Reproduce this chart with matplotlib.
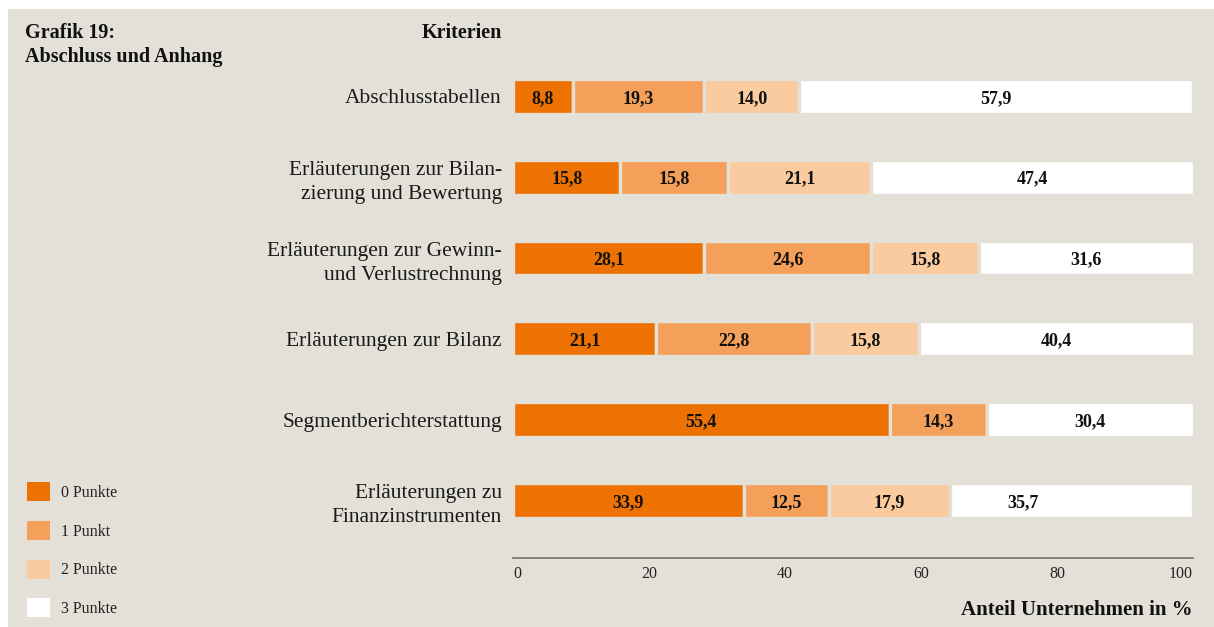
import matplotlib.pyplot as plt
from matplotlib.patches import Patch, Rectangle

plt.rcParams['font.family'] = ['Liberation Serif', 'DejaVu Serif']

# data
categories = [
    "Abschlusstabellen",
    "Erläuterungen zur Bilan-\nzierung und Bewertung",
    "Erläuterungen zur Gewinn-\nund Verlustrechnung",
    "Erläuterungen zur Bilanz",
    "Segmentberichterstattung",
    "Erläuterungen zu\nFinanzinstrumenten",
]
punkte0 = [8.8, 15.8, 28.1, 21.1, 55.4, 33.9]
punkte1 = [19.3, 15.8, 24.6, 22.8, 14.3, 12.5]
punkte2 = [14.0, 21.1, 15.8, 15.8, 0.0, 17.9]
punkte3 = [57.9, 47.4, 31.6, 40.4, 30.4, 35.7]
series = [punkte0, punkte1, punkte2, punkte3]
legend_labels = ["0 Punkte", "1 Punkt", "2 Punkte", "3 Punkte"]
xticks = [0, 20, 40, 60, 80, 100]

colors = ['#ee7203', '#f5a05a', '#f9cb9f', '#ffffff']
bg = '#e3e0d8'
W, H = 1214, 627

fig = plt.figure(figsize=(W / 100, H / 100), dpi=100, facecolor='white')
fig.patches.append(Rectangle((8 / W, 0), 1 - 8 / W, 1 - 9 / H,
                             transform=fig.transFigure, facecolor=bg,
                             edgecolor='none', zorder=-10))

ax = fig.add_axes([513 / W, 69 / H, 680 / W, (558 - 60) / H])
ax.set_facecolor('none')

ypos = list(range(len(categories)))[::-1]
left = [0.0] * len(categories)
for k, vals in enumerate(series):
    bars = ax.barh(ypos, vals, left=left, height=0.43, color=colors[k],
                   edgecolor=bg, linewidth=2.4)
    for i, (b, v) in enumerate(zip(bars, vals)):
        if v <= 0:
            continue
        dx = -35 if (i == 5 and k == 3) else 0
        ax.annotate(f"{v:.1f}".replace('.', ','),
                    (b.get_x() + b.get_width() / 2, b.get_y() + b.get_height() / 2),
                    xytext=(dx, 0), textcoords='offset points',
                    ha='center', va='center_baseline', fontsize=13,
                    fontweight='bold', color='#111111')
    left = [l + v for l, v in zip(left, vals)]

ax.set_xlim(0, 100)
ax.set_ylim(-0.712, 5.45)
ax.set_yticks(ypos)
ax.set_yticklabels(categories, fontsize=15.5, color='#1a1a1a', linespacing=1.38)
ax.tick_params(axis='y', length=0, pad=8)
ax.set_xticks(xticks)
ax.set_xticklabels([str(t) for t in xticks], fontsize=11.5, color='#222222')
ax.tick_params(axis='x', length=0, pad=6)
for lbl, ha in zip(ax.get_xticklabels(), ['left', 'center', 'center', 'center', 'center', 'right']):
    lbl.set_ha(ha)

for s in ['top', 'right', 'left']:
    ax.spines[s].set_visible(False)
ax.spines['bottom'].set_color('#7a6e5e')
ax.spines['bottom'].set_linewidth(1.2)

ax.text(1.0, -0.105, "Anteil Unternehmen in %", transform=ax.transAxes,
        ha='right', va='center', fontsize=15, fontweight='bold', color='#111111')

fig.text(25 / W, 1 - 33 / H, "Grafik 19:", ha='left', va='center',
         fontsize=14.5, fontweight='bold', color='#111111')
fig.text(25 / W, 1 - 57 / H, "Abschluss und Anhang", ha='left', va='center',
         fontsize=14.5, fontweight='bold', color='#111111')
fig.text(502 / W, 1 - 33 / H, "Kriterien", ha='right', va='center',
         fontsize=14.5, fontweight='bold', color='#111111')

handles = [Patch(facecolor=c, edgecolor='none', label=l)
           for c, l in zip(colors, legend_labels)]
fig.legend(handles=handles, loc='upper left',
           bbox_to_anchor=(27 / W, 1 - 482 / H), frameon=False,
           fontsize=11.5, handlelength=1.44, handleheight=1.44,
           handletextpad=0.7, labelspacing=1.25, borderpad=0,
           borderaxespad=0, labelcolor='#222222')

fig.savefig('out.png', dpi=100, facecolor=fig.get_facecolor())
